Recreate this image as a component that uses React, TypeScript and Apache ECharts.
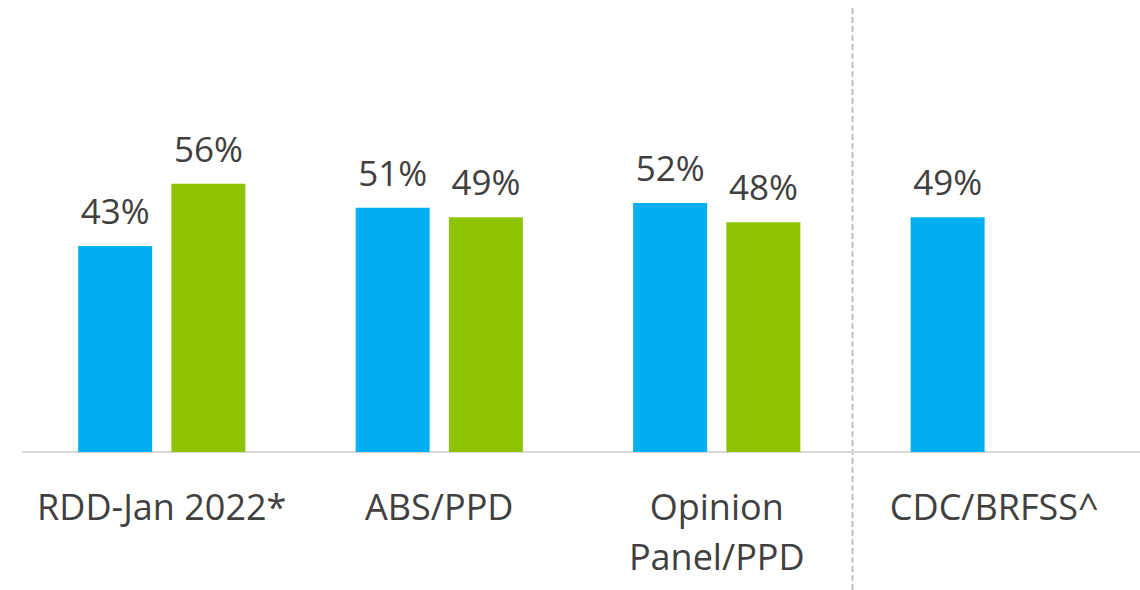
import React, { useEffect, useRef } from "react";
import * as echarts from "echarts";

const categories = ["RDD-Jan 2022*", "ABS/PPD", "Opinion\nPanel/PPD", "CDC/BRFSS^"];
const seriesA = [43, 51, 52, 49];
const seriesB: (number | null)[] = [56, 49, 48, null];

const FONT = "'Open Sans', 'Noto Sans', sans-serif";
const TEXT = "#404040";

export default function App() {
  const ref = useRef<HTMLDivElement>(null);
  useEffect(() => {
    if (!ref.current) return;
    const chart = echarts.init(ref.current, undefined, { renderer: "svg" });
    const label = {
      show: true,
      position: "top",
      distance: 18,
      color: TEXT,
      fontSize: 35,
      fontFamily: FONT,
      formatter: (p: any) => (p.value == null ? "" : p.value + "%"),
    };
    chart.setOption({
      animation: false,
      grid: { left: 23, right: 7, top: 21, bottom: 138, containLabel: false },
      xAxis: {
        type: "category",
        data: categories,
        axisLine: { show: true, lineStyle: { color: "#d9d9d9", width: 2 } },
        axisTick: { show: false },
        axisLabel: {
          color: TEXT,
          fontSize: 36,
          fontFamily: FONT,
          lineHeight: 50,
          margin: 29,
          interval: 0,
        },
      },
      yAxis: {
        type: "value",
        min: 0,
        max: 90,
        show: false,
        splitLine: { show: false },
      },
      series: [
        {
          type: "bar",
          data: seriesA,
          barWidth: 74,
          barGap: "26%",
          itemStyle: { color: "#00b0f0" },
          label,
        },
        {
          type: "bar",
          data: seriesB,
          barWidth: 74,
          itemStyle: { color: "#8dc300" },
          label,
        },
      ],
      graphic: [
        {
          type: "line",
          shape: { x1: 1110, y1: 452, x2: 1140, y2: 452 },
          style: { stroke: "#d9d9d9", lineWidth: 2 },
          silent: true,
        },
        {
          type: "line",
          shape: { x1: 852.5, y1: 8, x2: 852.5, y2: 590 },
          style: { stroke: "#c0c0c0", lineWidth: 2, lineDash: [6, 3] },
          silent: true,
        },
      ],
    });
    return () => chart.dispose();
  }, []);
  return (
    <div
      ref={ref}
      style={{ width: 1140, height: 590, position: "absolute", left: 0, top: 0 }}
    />
  );
}
